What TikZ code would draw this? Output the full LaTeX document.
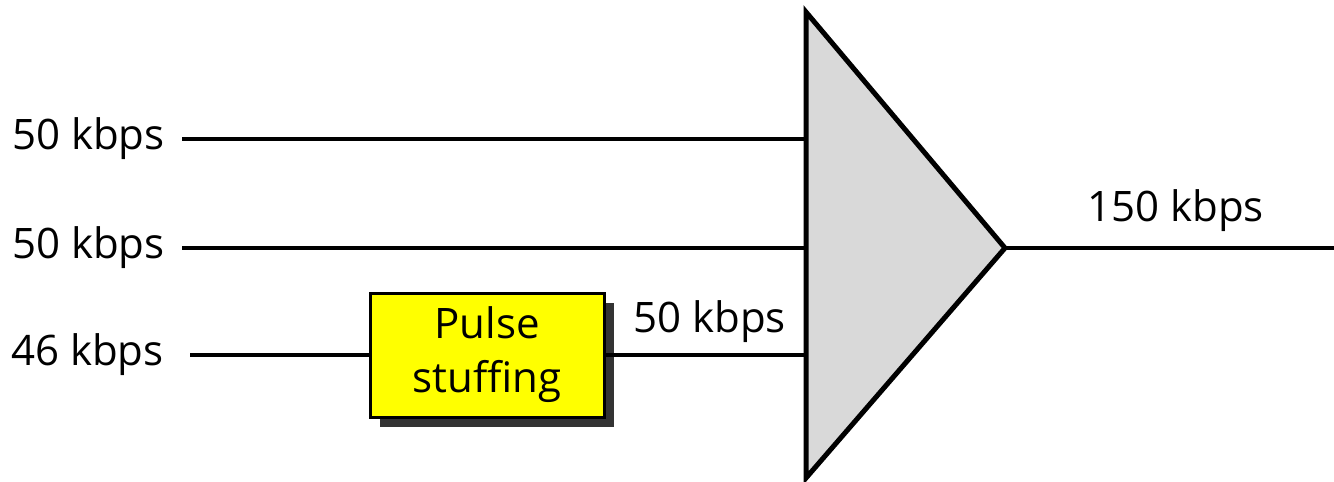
\documentclass[tikz,border=0pt]{standalone}
\usepackage{fontspec}
\setmainfont{Open Sans}
\usetikzlibrary{positioning, calc, shadows}
\definecolor{stuffYellow}{RGB}{255, 255, 0}
\definecolor{muxGray}{RGB}{217, 217, 217}
\definecolor{shadowGray}{RGB}{51, 51, 51}

\begin{document}
\begin{tikzpicture}[x=0.5pt, y=-0.5pt,
    rate/.style={inner xsep=8.5pt, inner ysep=0pt, font=\fontsize{21}{27}\selectfont},
    wire/.style={line width=2pt},
    stuffbox/.style={draw, line width=1.5pt, fill=stuffYellow, minimum width=117pt, minimum height=62pt, align=center, font=\fontsize{21}{27}\selectfont, drop shadow={shadow xshift=5pt, shadow yshift=-5pt, fill=shadowGray, opacity=1}},
    mux/.style={draw, line width=2.5pt, fill=muxGray, line join=miter}]
    \useasboundingbox (0,0) rectangle (1334,482);
    \draw[mux] (806,12) coordinate (mt) -- (1005,248) coordinate (mo) -- (806,478) coordinate (mb) -- cycle;
    \coordinate (m1) at (806,139);
    \coordinate (m2) at (806,248);
    \coordinate (m3) at (806,355);
    \coordinate (out) at (1334,248);
    \coordinate (s1) at (182,139);
    \coordinate (s2) at (182,248);
    \coordinate (s3) at (190,355);
    \node[rate, left=0pt of s1] (r1) {50 kbps};
    \node[rate, left=0pt of s2] (r2) {50 kbps};
    \node[rate, inner xsep=13pt, left=0pt of s3] (r3) {46 kbps};
    \node[stuffbox] (ps) at (487,355) {Pulse\\stuffing};
    \draw[wire] (r1.east) -- (m1);
    \draw[wire] (r2.east) -- (m2);
    \draw[wire] (r3.east) -- (ps);
    \draw[wire] (ps) -- node[rate, above=5pt, xshift=2pt] (r4) {50 kbps} (m3);
    \draw[wire] (mo) -- node[rate, above=7pt, xshift=3pt] (r5) {150 kbps} (out);
\end{tikzpicture}
\end{document}
